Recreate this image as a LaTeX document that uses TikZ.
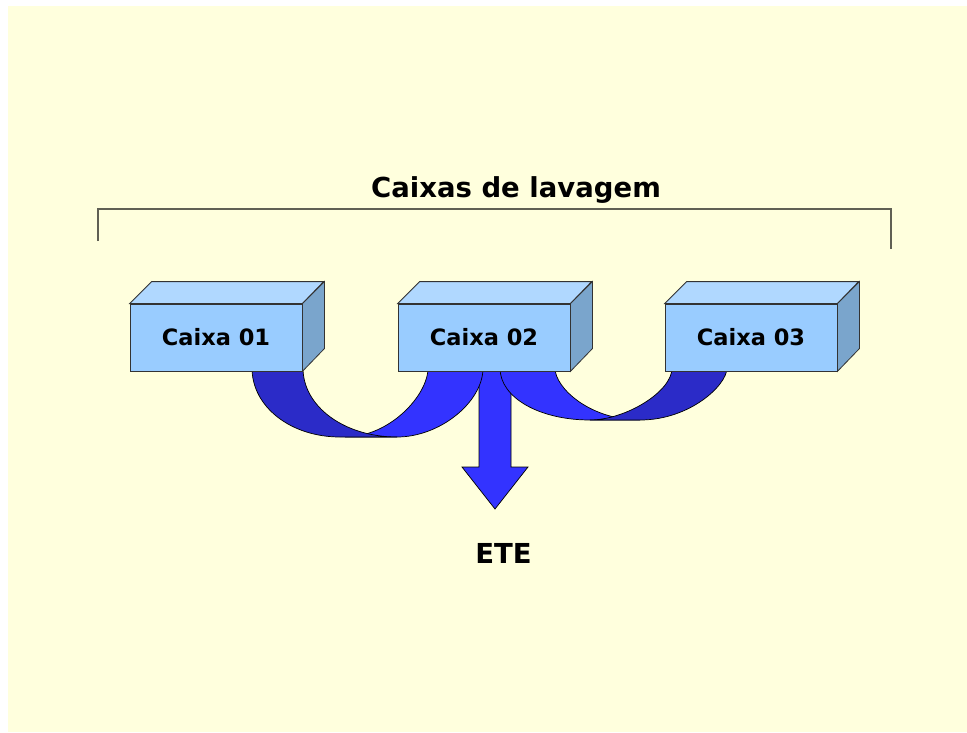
\documentclass[tikz,border=0pt]{standalone}
\usepackage{fontspec}
\setmainfont{DejaVu Sans}
\usepackage{tikz}
\definecolor{cFundo}{RGB}{255,255,221}
\definecolor{cFrente}{RGB}{153,204,255}
\definecolor{cTopo}{RGB}{176,216,255}
\definecolor{cLado}{RGB}{122,165,204}
\definecolor{cAzul}{RGB}{51,51,255}
\definecolor{cAzulEscuro}{RGB}{43,43,200}
\definecolor{cChave}{RGB}{96,96,84}
\tikzstyle{caixa}=[draw=black!80,%
                   fill=cFrente,%
                   rectangle,%
                   line width=0.8pt,%
                   minimum width=172pt,%
                   minimum height=67pt,%
                   inner sep=0pt,%
                   font=\fontsize{22.5}{27}\selectfont\bfseries]
\tikzstyle{facetopo}=[draw=black!80,fill=cTopo,line width=0.8pt]
\tikzstyle{facelado}=[draw=black!80,fill=cLado,line width=0.8pt]
\tikzstyle{fita}=[draw=black,fill=cAzul,line width=0.7pt]
\tikzstyle{fitaescura}=[draw=black,fill=cAzulEscuro,line width=0.7pt]
\tikzstyle{chave}=[draw=cChave,line width=1.5pt]
\tikzstyle{rotulo}=[font=\fontsize{27.5}{33}\selectfont\bfseries,anchor=base]

\begin{document}
\begin{tikzpicture}[x=1pt,y=-1pt]
            \useasboundingbox (0,0) rectangle (967,732);
            \fill[cFundo] (8,6) rectangle (967,732);
            % titulo e chave
            \node[rotulo] (titulo) at (516,197) {Caixas de lavagem};
            \draw[chave] (98,241) -- (98,209) -- (891,209) -- (891,249);
            % seta para a ETE
            \draw[fita] (479,368) -- (479,467) -- (462,467) -- (495,509)
                        -- (528,467) -- (511,467) -- (511,368) -- cycle;
            % fitas entre caixa 01 e caixa 02
            \draw[fita] (483,368) .. controls (483,402) and (440,437) .. (397,437)
                        -- (345,437) .. controls (390,437) and (428,395) .. (428,368) -- cycle;
            \draw[fitaescura] (252,368) .. controls (252,407) and (291,437) .. (340,437)
                        -- (397,437) .. controls (345,437) and (303,407) .. (303,368) -- cycle;
            % fitas entre caixa 02 e caixa 03
            \draw[fita] (500,368) .. controls (500,398) and (540,420) .. (590,420)
                        -- (640,420) .. controls (590,420) and (555,388) .. (555,368) -- cycle;
            \draw[fitaescura] (727,368) .. controls (727,385) and (690,420) .. (640,420)
                        -- (590,420) .. controls (625,420) and (672,392) .. (672,368) -- cycle;
            % caixas
            \node[caixa] (c1) at (216,337.5) {Caixa 01};
            \node[caixa] (c2) at (484,337.5) {Caixa 02};
            \node[caixa] (c3) at (751,337.5) {Caixa 03};
            \foreach \c in {c1,c2,c3} {
              \draw[facetopo] (\c.north west) -- ++(22,-22) -- ++(172,0) -- (\c.north east) -- cycle;
              \draw[facelado] (\c.north east) -- ++(22,-22) -- ++(0,67) -- (\c.south east) -- cycle;
            }
            \node[rotulo] (ete) at (503.5,563) {ETE};
\end{tikzpicture}
\end{document}
